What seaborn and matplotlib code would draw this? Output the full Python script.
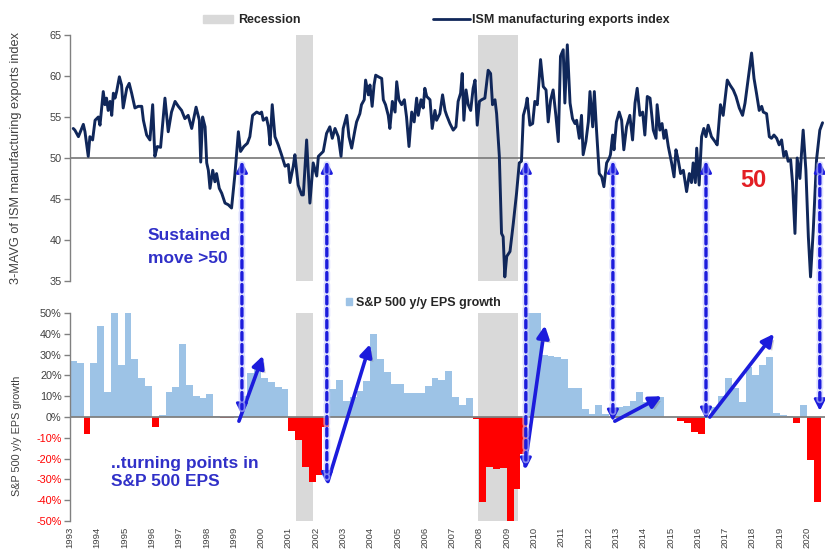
import numpy as np
import matplotlib
matplotlib.use("Agg")
import matplotlib.pyplot as plt
import matplotlib.patheffects as pe
import seaborn as sns
from matplotlib import font_manager
from matplotlib.patches import Patch, ConnectionPatch
from matplotlib.lines import Line2D

# ISM manufacturing exports index, 3-month average (decimal year, level)
ism_t = [1993.12, 1993.18, 1993.31, 1993.49, 1993.55, 1993.67, 1993.73, 1993.83, 1993.92,
         1994.04, 1994.10, 1994.22, 1994.28, 1994.34, 1994.40, 1994.47, 1994.53, 1994.59,
         1994.65, 1994.71, 1994.81, 1994.89, 1994.95, 1995.08, 1995.17, 1995.26, 1995.38,
         1995.50, 1995.63, 1995.69, 1995.81, 1995.93, 1996.03, 1996.11, 1996.20, 1996.32,
         1996.48, 1996.60, 1996.72, 1996.85, 1996.97, 1997.09, 1997.21, 1997.33, 1997.46,
         1997.62, 1997.74, 1997.79, 1997.86, 1997.95, 1998.01, 1998.07, 1998.13, 1998.23,
         1998.31, 1998.37, 1998.47, 1998.56, 1998.68, 1998.80, 1998.92, 1999.04, 1999.17,
         1999.25, 1999.37, 1999.50, 1999.59, 1999.69, 1999.84, 1999.96,
         2000.02, 2000.08, 2000.20, 2000.27, 2000.33, 2000.41, 2000.51, 2000.63, 2000.75,
         2000.88, 2001.00, 2001.06, 2001.18, 2001.24, 2001.36, 2001.49, 2001.55, 2001.67,
         2001.79, 2001.91, 2002.04, 2002.10, 2002.22, 2002.28, 2002.40, 2002.52, 2002.61,
         2002.71, 2002.83, 2002.93, 2003.01, 2003.14, 2003.22, 2003.32, 2003.44, 2003.50,
         2003.62, 2003.68, 2003.78, 2003.83, 2003.93, 2003.99, 2004.07, 2004.14, 2004.20,
         2004.30, 2004.42, 2004.48, 2004.56, 2004.66, 2004.72, 2004.81, 2004.91, 2004.97,
         2005.05, 2005.15, 2005.25, 2005.33, 2005.42, 2005.52, 2005.61, 2005.70, 2005.76,
         2005.86, 2005.94, 2006.00, 2006.07, 2006.19, 2006.27, 2006.37, 2006.43,
         2006.55, 2006.65, 2006.74, 2006.80, 2006.92, 2007.04, 2007.14, 2007.22, 2007.31,
         2007.37, 2007.43, 2007.51, 2007.59, 2007.68, 2007.77, 2007.84, 2007.92, 2008.00,
         2008.08, 2008.20, 2008.32, 2008.41, 2008.48, 2008.57, 2008.63, 2008.73, 2008.81,
         2008.87, 2008.93, 2009.00, 2009.12, 2009.24, 2009.36, 2009.46, 2009.54, 2009.61,
         2009.70, 2009.75, 2009.85, 2009.95, 2010.03, 2010.12, 2010.24, 2010.34, 2010.44,
         2010.52, 2010.61, 2010.70, 2010.80, 2010.89, 2010.97, 2011.07, 2011.13, 2011.22,
         2011.32, 2011.41, 2011.50, 2011.56, 2011.66, 2011.74, 2011.80, 2011.90, 2011.99,
         2012.05, 2012.15, 2012.21, 2012.29, 2012.39, 2012.48, 2012.56, 2012.66, 2012.76,
         2012.80, 2012.88, 2012.93, 2013.02, 2013.12, 2013.21, 2013.29, 2013.39, 2013.51,
         2013.61, 2013.70, 2013.78, 2013.88, 2013.98, 2014.06, 2014.15, 2014.25, 2014.37,
         2014.47, 2014.51, 2014.61, 2014.69, 2014.76, 2014.83, 2014.92, 2015.04, 2015.13,
         2015.20, 2015.28, 2015.37, 2015.47, 2015.59, 2015.69, 2015.77, 2015.83, 2015.91,
         2015.96, 2016.05, 2016.14, 2016.22, 2016.30, 2016.38, 2016.50, 2016.63, 2016.71,
         2016.83, 2016.93, 2017.08, 2017.18, 2017.30, 2017.40, 2017.52, 2017.64, 2017.73,
         2017.85, 2017.97, 2018.06, 2018.15, 2018.25, 2018.34, 2018.40, 2018.52, 2018.62,
         2018.70, 2018.79, 2018.89, 2018.98, 2019.07, 2019.15, 2019.23, 2019.31, 2019.40,
         2019.47, 2019.56, 2019.64, 2019.74, 2019.80, 2019.86, 2019.96, 2020.05, 2020.13,
         2020.23, 2020.35, 2020.47, 2020.57]
ism_v = [53.6, 53.4, 52.6, 54.1, 53.2, 50.2, 52.6, 52.2, 54.6,
         55.0, 54.0, 58.1, 56.5, 57.3, 55.8, 56.9, 55.2, 57.9,
         57.3, 58.1, 59.9, 58.9, 56.1, 58.5, 59.1, 57.9, 56.1,
         56.3, 56.3, 54.6, 52.8, 52.2, 56.5, 50.2, 51.4, 51.3,
         57.3, 53.2, 55.6, 56.9, 56.3, 55.8, 54.8, 55.2, 53.6,
         56.2, 54.6, 49.5, 55.0, 53.8, 49.4, 48.5, 46.3, 48.5,
         47.1, 48.1, 46.3, 45.7, 44.5, 44.3, 43.9, 47.9, 53.2,
         50.8, 51.4, 51.8, 52.6, 55.2, 55.6, 55.4,
         55.6, 54.6, 54.9, 53.8, 51.6, 56.5, 52.6, 51.6, 50.4,
         49.0, 49.2, 47.0, 49.0, 50.4, 46.7, 45.5, 45.5, 52.2,
         44.5, 49.4, 47.8, 50.2, 50.6, 50.8, 53.0, 53.8, 52.4,
         53.6, 52.6, 50.2, 53.6, 55.2, 52.6, 51.2, 53.4, 54.4,
         55.4, 56.5, 57.1, 59.5, 57.7, 58.9, 56.3, 58.9, 60.1,
         59.9, 59.7, 57.1, 56.5, 55.2, 53.6, 56.9, 55.6, 59.3,
         57.1, 56.5, 57.1, 55.0, 51.4, 55.6, 54.4, 57.3, 55.2,
         57.1, 56.1, 58.5, 57.5, 57.1, 53.6, 55.8, 54.6,
         55.4, 57.7, 55.8, 55.2, 54.2, 53.4, 53.8, 56.9, 57.9,
         60.3, 54.6, 58.3, 56.5, 55.8, 58.5, 59.5, 54.0, 56.9,
         57.1, 57.3, 60.7, 60.3, 56.5, 57.1, 55.4, 50.2, 40.8,
         40.4, 35.5, 38.0, 38.6, 42.0, 45.7, 49.4, 49.6, 55.2,
         56.3, 57.3, 54.0, 54.2, 56.9, 56.5, 62.0, 58.7, 58.3,
         54.4, 57.1, 58.3, 55.2, 52.0, 62.4, 63.2, 56.7, 63.8,
         56.7, 54.8, 54.2, 54.6, 52.4, 55.2, 50.4, 52.0, 54.4,
         58.1, 53.8, 58.1, 53.4, 48.1, 47.7, 46.5, 49.4, 50.0,
         50.4, 52.8, 51.0, 54.4, 55.6, 54.6, 51.0, 53.8, 55.2,
         52.2, 56.7, 58.5, 55.2, 55.6, 52.8, 57.5, 57.3, 53.4,
         52.4, 56.5, 53.4, 54.2, 52.4, 53.4, 51.4, 49.4, 47.7,
         51.0, 49.8, 48.1, 48.5, 45.9, 48.1, 47.0, 49.4, 47.0,
         51.2, 46.7, 52.6, 53.6, 52.6, 54.0, 52.6, 52.0, 51.6,
         56.5, 55.2, 59.5, 58.9, 58.3, 57.5, 56.1, 55.2, 56.7,
         59.7, 62.8, 59.7, 57.9, 55.8, 56.3, 55.6, 55.4, 52.6,
         52.4, 52.8, 52.4, 51.6, 52.2, 50.2, 50.8, 49.6, 49.8,
         47.0, 40.8, 50.0, 47.5, 50.6, 53.4, 48.5, 40.4, 35.5,
         41.2, 49.8, 53.4, 54.3]

# S&P 500 y/y EPS growth (%), one value per quarter starting 1993 Q1
eps_growth = [27, 26, -8, 26, 44, 12, 50, 25, 50, 28,
              19, 15, -5, 1, 12, 14.5, 35, 15.5, 10, 9,
              11, 0.3, -0.5, -0.4, 0.4, 10, 21, 25, 19, 17,
              14.5, 13.5, -6.5, -11, -24, -31, -28, -5, 13.5, 18,
              7.8, 9.8, 12.5, 17.5, 40, 28, 21.5, 16, 16, 11.5,
              11.5, 11.5, 15, 18.7, 18, 22, 9.8, 6, 9, -1,
              -41, -24, -25, -24.5, -50, -34.5, -18, 50, 50, 30,
              29.5, 29, 28, 14, 14, 3.7, 1.6, 6, 1.6, 0.5,
              5, 5.5, 7.5, 12, 7, 8.5, 9.4, 0, 0.2, -2,
              -2.8, -7, -8, 0.3, 5, 10, 18.6, 14, 7, 24,
              20, 24.8, 28.8, 2, 0.8, 0.5, -3, 6, -20.5, -41]

recessions = [(2001.27, 2001.91), (2007.93, 2009.42)]
years = list(range(1993, 2021))

# ISM crossing back above 50 -> EPS level where the dashed arrow lands
cross_x = [1999.30, 2002.41, 2009.70, 2012.89, 2016.30, 2020.47]
cross_eps = [1, -32, -25, -2, -1, 3]
# subsequent EPS turn (x0, y0) -> (x1, y1)
turns = [(1999.19, -2, 2000.07, 29.5), (2002.45, -31, 2003.99, 35),
         (2009.67, -23.5, 2010.40, 44), (2012.96, -2, 2014.68, 10),
         (2016.44, 0, 2018.79, 40)]

sns.set_theme(style="white")
names = {f.name for f in font_manager.fontManager.ttflist}
narrow = "Liberation Sans Narrow" in names
base = "Liberation Sans Narrow" if narrow else "Liberation Sans"
plt.rcParams["font.family"] = [base, "DejaVu Sans"]
s = 1.0 / 0.82 if narrow else 1.0

navy = "#10275a"
grey_band = "#d9d9d9"
axis_grey = "#808080"
txt_grey = "#404040"
ann_blue = "#3030c8"
arrow_blue = "#1c1cdc"

fig = plt.figure(figsize=(8.25, 5.57), dpi=100)
ax_top = fig.add_axes([0.0848, 0.4955, 0.9152, 0.4417])
ax_bot = fig.add_axes([0.0848, 0.0646, 0.9152, 0.3734])
xlim = (1993.0, 2020.66)

# top panel: ISM exports
for a, b in recessions:
    ax_top.axvspan(a, b, color=grey_band, lw=0, zorder=0)
ax_top.axhline(50, color=axis_grey, lw=1.3, zorder=1)
sns.lineplot(x=ism_t, y=ism_v, ax=ax_top, color=navy, lw=2.1, zorder=3)
ax_top.set_xlim(*xlim)
ax_top.set_ylim(35, 65)
ax_top.set_yticks(range(35, 70, 5))
ax_top.set_xticks([])
ax_top.set_ylabel("3-MAVG of ISM manufacturing exports index", fontsize=9.2 * s,
                  color=txt_grey)
ax_top.yaxis.set_label_coords(-0.063, 0.5)

# bottom panel: EPS growth bars
quarters = 1993 + np.arange(len(eps_growth)) / 4
colors = ["#ff0000" if v < 0 else "#9dc3e6" for v in eps_growth]
for a, b in recessions:
    ax_bot.axvspan(a, b, color=grey_band, lw=0, zorder=0)
ax_bot.bar(quarters, eps_growth, width=0.25, align="edge", color=colors, lw=0, zorder=2)
ax_bot.axhline(0, color=axis_grey, lw=1.3, zorder=3)
ax_bot.set_xlim(*xlim)
ax_bot.set_ylim(-50, 50)
pct_ticks = list(range(-50, 60, 10))
ax_bot.set_yticks(pct_ticks)
ax_bot.set_yticklabels([f"{v}%" for v in pct_ticks])
ax_bot.set_xticks(years)
ax_bot.set_xticklabels([str(y) for y in years], rotation=90)
ax_bot.set_ylabel("S&P 500 y/y EPS growth", fontsize=7.8 * s, color=txt_grey)
ax_bot.yaxis.set_label_coords(-0.063, 0.41)

for ax in (ax_top, ax_bot):
    for side in ("top", "right", "bottom"):
        ax.spines[side].set_visible(False)
    ax.spines["left"].set_color(axis_grey)
    ax.spines["left"].set_linewidth(1.0)
    ax.tick_params(axis="y", left=True, direction="out", length=4, width=1,
                   color=axis_grey, labelsize=7.8 * s, pad=2)
    ax.set_facecolor("none")
for lbl in ax_top.get_yticklabels():
    lbl.set_color(txt_grey)
for lbl, v in zip(ax_bot.get_yticklabels(), pct_ticks):
    lbl.set_color("#ff0000" if v < 0 else txt_grey)
ax_bot.tick_params(axis="x", bottom=False, length=0, labelsize=6.8 * s,
                   labelcolor=txt_grey, pad=4)

# dashed arrows linking ISM crossing to EPS turning points
dash_fx = [pe.withStroke(linewidth=5, foreground="#c8ccff", alpha=0.6)]
head = "-|>,head_length=0.55,head_width=0.28"
for x, e in zip(cross_x, cross_eps):
    con = ConnectionPatch(xyA=(x, 49.2), coordsA=ax_top.transData,
                          xyB=(x, e + 3), coordsB=ax_bot.transData,
                          arrowstyle="-", color=arrow_blue, lw=2.4,
                          linestyle=(0, (2.2, 1.4)), zorder=5, path_effects=dash_fx)
    fig.add_artist(con)
    ax_top.annotate("", xy=(x, 49.6), xytext=(x, 47.8),
                    arrowprops=dict(arrowstyle=head, color=arrow_blue, lw=2,
                                    shrinkA=0, shrinkB=0), zorder=6)
    ax_bot.annotate("", xy=(x, e), xytext=(x, e + 6),
                    arrowprops=dict(arrowstyle=head, color=arrow_blue, lw=2,
                                    shrinkA=0, shrinkB=0), zorder=6)

shadow = [pe.withSimplePatchShadow(offset=(2, -2), shadow_rgbFace="#7a7a7a", alpha=0.35)]
for x0, y0, x1, y1 in turns:
    ax_bot.annotate("", xy=(x1, y1), xytext=(x0, y0),
                    arrowprops=dict(arrowstyle="-|>,head_length=0.6,head_width=0.3",
                                    color=arrow_blue, lw=2.6, shrinkA=0, shrinkB=0,
                                    path_effects=shadow), zorder=6)

# annotations
bold_sans = ["Liberation Sans", "DejaVu Sans"]
ax_top.text(1995.86, 39.1, "Sustained\nmove >50", family=bold_sans, fontsize=12.5,
            fontweight="bold", color=ann_blue, ha="left", va="center", linespacing=1.65)
ax_bot.text(1994.50, -26.6, "..turning points in\nS&P 500 EPS", family=bold_sans,
            fontsize=12.5, fontweight="bold", color=ann_blue, ha="left", va="center",
            linespacing=1.3)
ax_top.text(2018.02, 47.2, "50", family=bold_sans, fontsize=17, fontweight="bold",
            color="#e31e24", ha="center", va="center")

# legends
leg_fs = 9.0 * s
fs_px = leg_fs * 100 / 72
leg_kw = dict(frameon=False, borderpad=0, borderaxespad=0, loc="center left",
              prop={"weight": "bold", "size": leg_fs})
fig.legend(handles=[Patch(color=grey_band)], labels=["Recession"],
           bbox_to_anchor=(203 / 825, 1 - 20 / 557), handlelength=30 / fs_px,
           handleheight=0.6, handletextpad=5 / fs_px, **leg_kw)
fig.legend(handles=[Line2D([], [], color=navy, lw=2)],
           labels=["ISM manufacturing exports index"],
           bbox_to_anchor=(433 / 825, 1 - 20 / 557), handlelength=37 / fs_px,
           handletextpad=2 / fs_px, **leg_kw)
fig.legend(handles=[Patch(color="#9dc3e6")], labels=["S&P 500 y/y EPS growth"],
           bbox_to_anchor=(346 / 825, 1 - 303 / 557), handlelength=6 / fs_px,
           handleheight=6 / fs_px, handletextpad=4 / fs_px, **leg_kw)

fig.savefig("out.png", dpi=100)
